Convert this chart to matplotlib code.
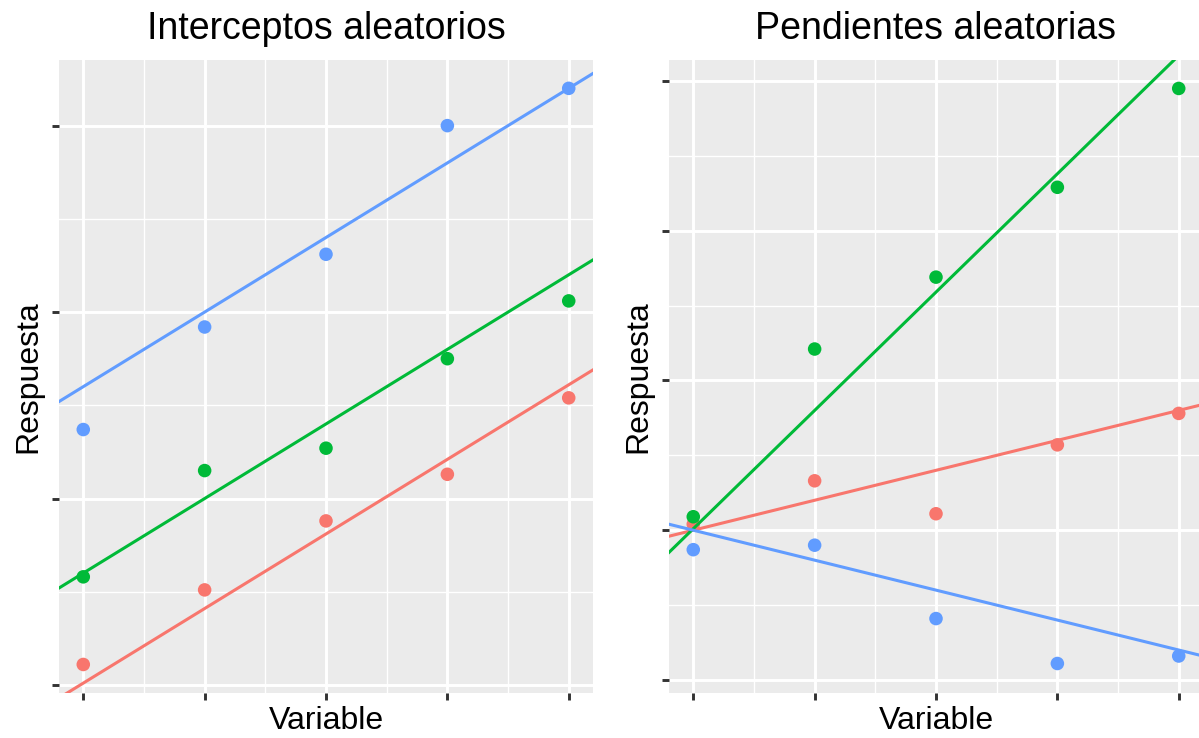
import matplotlib
matplotlib.use("Agg")
import matplotlib.pyplot as plt
import numpy as np

# ggplot default hue palette, one colour per group
GROUP_COLORS = ["#F8766D", "#00BA38", "#619CFF"]

x_vals = [1, 2, 3, 4, 5]

# random intercepts: observed responses per group
int_red = [0.11, 0.51, 0.88, 1.13, 1.54]
int_green = [0.58, 1.15, 1.27, 1.75, 2.06]
int_blue = [1.37, 1.92, 2.31, 3.00, 3.20]
# fitted lines (value at x = 1 and common slope)
int_line_start = [0.01, 0.60, 1.60]
int_line_slope = [0.40, 0.40, 0.40]

# random slopes: observed responses per group
slp_red = [1.04, 1.33, 1.11, 1.57, 1.78]
slp_green = [1.09, 2.21, 2.69, 3.29, 3.95]
slp_blue = [0.87, 0.90, 0.41, 0.11, 0.16]
slp_line_start = [1.00, 1.01, 1.00]
slp_line_slope = [0.20, 0.79, -0.20]


def gg_panel(ax, series, starts, slopes, title, ylim, yticks):
    ax.set_facecolor("#EBEBEB")
    for s in ax.spines.values():
        s.set_visible(False)
    ax.set_xlim(0.8, 5.2)
    ax.set_ylim(*ylim)
    ax.set_xticks(x_vals)
    ax.set_yticks(yticks)
    ax.set_xticks(np.arange(1.5, 5, 1.0), minor=True)
    ax.set_yticks([(a + b) / 2 for a, b in zip(yticks[:-1], yticks[1:])], minor=True)
    ax.set_xticklabels([])
    ax.set_yticklabels([])
    ax.grid(which="major", color="white", linewidth=2.1)
    ax.grid(which="minor", color="white", linewidth=1.0)
    ax.set_axisbelow(True)
    ax.tick_params(which="major", length=5, width=2.1, color="#333333", direction="out")
    ax.tick_params(which="minor", length=0)

    for ys, col in zip(series, GROUP_COLORS):
        ax.scatter(x_vals, ys, s=95, color=col, edgecolors="none", zorder=3)
    xs = np.array([0.6, 5.4])
    for y0, b, col in zip(starts, slopes, GROUP_COLORS):
        ax.plot(xs, y0 + b * (xs - 1), color=col, linewidth=2.2, zorder=4)

    ax.set_title(title, fontsize=27, pad=15)
    ax.set_xlabel("Variable", fontsize=23, labelpad=1)
    ax.set_ylabel("Respuesta", fontsize=23, labelpad=3)


fig = plt.figure(figsize=(11.99, 7.38), dpi=100)
plt.rcParams["font.family"] = ["Liberation Sans", "DejaVu Sans"]

ax1 = fig.add_axes([59 / 1199, (738 - 693) / 738, 534 / 1199, 633 / 738])
ax2 = fig.add_axes([669 / 1199, (738 - 693) / 738, 534 / 1199, 633 / 738])

gg_panel(ax1, [int_red, int_green, int_blue], int_line_start, int_line_slope,
         "Interceptos aleatorios", (-0.043, 3.352), [0, 1, 2, 3])
gg_panel(ax2, [slp_red, slp_green, slp_blue], slp_line_start, slp_line_slope,
         "Pendientes aleatorias", (-0.087, 4.14), [0, 1, 2, 3, 4])

fig.savefig("out.png", dpi=100)
